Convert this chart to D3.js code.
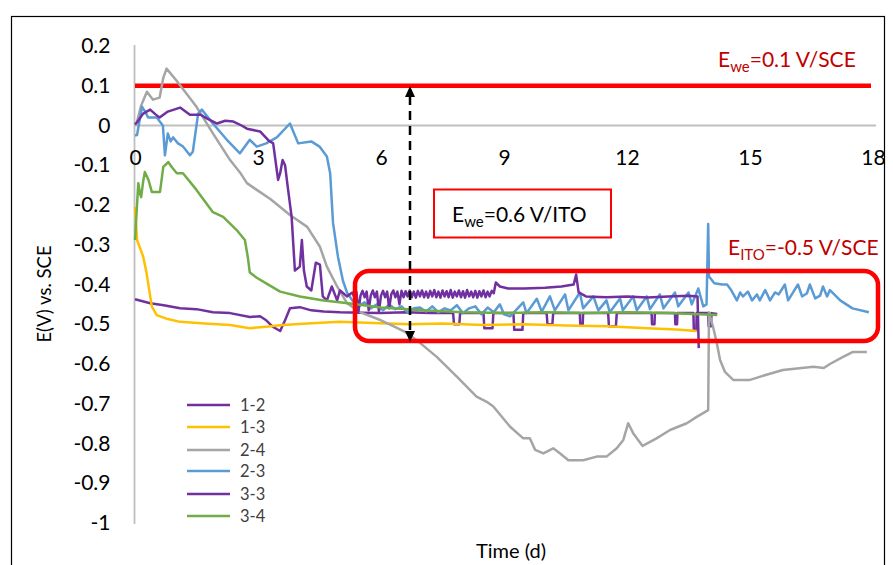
<!DOCTYPE html>
<html><head><meta charset="utf-8">
<script src="https://cdn.jsdelivr.net/npm/d3@7"></script>
<style>body{margin:0;background:#fff}svg{display:block}text{font-family:Lato,"Open Sans",sans-serif}</style>
</head><body>
<svg id="c" width="893" height="565"></svg>
<script>
const xTicks=[0,3,6,9,12,15,18];
const yTicks=[0.2,0.1,0,-0.1,-0.2,-0.3,-0.4,-0.5,-0.6,-0.7,-0.8,-0.9,-1];
const yTickLabels=["0.2","0.1","0","-0.1","-0.2","-0.3","-0.4","-0.5","-0.6","-0.7","-0.8","-0.9","-1"];
const seriesNames=["1-2","1-3","2-4","2-3","3-3","3-4"];
const seriesColors=["#7030a0","#ffc000","#a5a5a5","#5b9bd5","#7030a0","#70ad47"];
const refLevel=0.1;

const s12=[[0,-0.437],[0.37,-0.447],[0.7,-0.452],[1.1,-0.46],[1.5,-0.462],[1.9,-0.47],[2.32,-0.472],[2.8,-0.482],[3.05,-0.48],[3.2,-0.49],[3.37,-0.507],[3.54,-0.517],[3.66,-0.49],[3.78,-0.46],[4.02,-0.457],[4.3,-0.465],[4.6,-0.468],[5.0,-0.47],[5.5,-0.471],[6.0,-0.472],[6.6,-0.47],[7.2,-0.472],[7.76,-0.472],[7.78,-0.5],[7.91,-0.5],[7.93,-0.472],[8.5,-0.472],[8.52,-0.51],[8.72,-0.51],[8.74,-0.472],[9.23,-0.472],[9.25,-0.514],[9.45,-0.514],[9.47,-0.472],[10.04,-0.472],[10.06,-0.5],[10.18,-0.5],[10.2,-0.472],[10.85,-0.472],[10.86,-0.5],[10.92,-0.5],[10.93,-0.472],[11.54,-0.472],[11.56,-0.505],[11.73,-0.505],[11.75,-0.472],[12.6,-0.472],[12.61,-0.5],[12.67,-0.5],[12.68,-0.472],[13.17,-0.472],[13.18,-0.5],[13.22,-0.5],[13.23,-0.472],[13.62,-0.472],[13.63,-0.515],[13.69,-0.515],[13.7,-0.472],[13.98,-0.472],[13.99,-0.505],[14.05,-0.505],[14.06,-0.472],[14.2,-0.474]];
const s13=[[0,-0.205],[0.05,-0.288],[0.2,-0.33],[0.28,-0.37],[0.41,-0.455],[0.53,-0.477],[0.8,-0.487],[1.1,-0.494],[1.7,-0.498],[2.32,-0.502],[2.8,-0.51],[3.2,-0.506],[3.6,-0.502],[4.2,-0.498],[5.0,-0.494],[5.8,-0.497],[6.7,-0.5],[7.5,-0.498],[8.5,-0.502],[9.5,-0.5],[10.5,-0.503],[11.5,-0.505],[12.5,-0.51],[13.2,-0.513],[13.7,-0.517]];
const s24=[[0,0.0],[0.05,0.01],[0.15,0.05],[0.29,0.085],[0.44,0.065],[0.6,0.07],[0.69,0.12],[0.77,0.143],[1.02,0.112],[1.5,0.047],[1.9,-0.02],[2.32,-0.087],[2.56,-0.118],[2.73,-0.145],[2.97,-0.162],[3.3,-0.185],[3.78,-0.225],[4.2,-0.255],[4.51,-0.305],[4.68,-0.355],[4.93,-0.405],[5.17,-0.447],[5.5,-0.47],[6.0,-0.49],[6.3,-0.505],[6.6,-0.52],[6.87,-0.54],[7.36,-0.582],[7.85,-0.632],[8.33,-0.682],[8.58,-0.695],[8.74,-0.707],[9.15,-0.758],[9.47,-0.787],[9.63,-0.787],[9.76,-0.816],[9.96,-0.825],[10.2,-0.812],[10.37,-0.825],[10.57,-0.842],[10.93,-0.842],[11.26,-0.833],[11.5,-0.833],[11.75,-0.812],[11.91,-0.791],[12.03,-0.749],[12.15,-0.774],[12.38,-0.806],[12.72,-0.787],[13.05,-0.766],[13.46,-0.749],[13.7,-0.733],[13.98,-0.716],[14.0,-0.47],[14.1,-0.507],[14.19,-0.547],[14.27,-0.59],[14.39,-0.62],[14.59,-0.64],[15.0,-0.64],[15.4,-0.627],[15.8,-0.615],[16.55,-0.607],[16.8,-0.61],[16.95,-0.6],[17.27,-0.582],[17.5,-0.57],[17.85,-0.57]];
const s23=[[0,-0.025],[0.05,-0.024],[0.17,0.047],[0.25,0.035],[0.32,0.02],[0.53,0.02],[0.68,0.0],[0.73,-0.075],[0.8,-0.02],[0.87,-0.04],[0.93,-0.03],[1.05,-0.045],[1.17,-0.053],[1.34,-0.075],[1.41,-0.066],[1.54,0.03],[1.63,0.04],[1.9,0.005],[2.24,-0.036],[2.56,-0.07],[2.8,-0.036],[2.97,-0.053],[3.2,-0.045],[3.46,-0.03],[3.78,0.005],[3.98,-0.045],[4.3,-0.04],[4.5,-0.053],[4.68,-0.078],[4.76,-0.12],[4.83,-0.245],[4.95,-0.33],[5.07,-0.39],[5.17,-0.42],[5.3,-0.44],[5.45,-0.455],[5.6,-0.445],[5.75,-0.46],[5.9,-0.45],[6.05,-0.465],[6.2,-0.45],[6.35,-0.462],[6.5,-0.455],[6.65,-0.47],[6.8,-0.46],[6.95,-0.458],[7.1,-0.468],[7.25,-0.455],[7.4,-0.47],[7.55,-0.46],[7.7,-0.465],[7.85,-0.452],[8.0,-0.472],[8.15,-0.46],[8.3,-0.455],[8.45,-0.475],[8.6,-0.458],[8.75,-0.47],[8.9,-0.45],[9.0,-0.475],[9.15,-0.48],[9.47,-0.445],[9.55,-0.472],[9.8,-0.436],[9.92,-0.468],[10.12,-0.43],[10.24,-0.465],[10.49,-0.425],[10.57,-0.465],[10.85,-0.42],[10.93,-0.46],[11.18,-0.43],[11.3,-0.465],[11.5,-0.44],[11.58,-0.47],[11.83,-0.435],[11.9,-0.465],[12.15,-0.43],[12.24,-0.465],[12.48,-0.43],[12.56,-0.462],[12.8,-0.425],[12.89,-0.46],[13.17,-0.42],[13.25,-0.455],[13.5,-0.42],[13.58,-0.45],[13.74,-0.41],[13.86,-0.455],[13.94,-0.45],[13.98,-0.248],[14.0,-0.38],[14.13,-0.397],[14.32,-0.40],[14.44,-0.40],[14.54,-0.414],[14.68,-0.44],[14.76,-0.42],[14.83,-0.43],[14.95,-0.418],[15.05,-0.44],[15.17,-0.425],[15.24,-0.44],[15.37,-0.414],[15.49,-0.44],[15.61,-0.42],[15.7,-0.425],[15.85,-0.40],[15.93,-0.44],[16.05,-0.42],[16.17,-0.40],[16.27,-0.43],[16.39,-0.422],[16.46,-0.40],[16.59,-0.435],[16.71,-0.428],[16.78,-0.405],[16.88,-0.43],[16.95,-0.414],[17.2,-0.44],[17.5,-0.46],[17.9,-0.47]];
const s33=[[0,0.003],[0.05,0.008],[0.2,0.03],[0.37,0.04],[0.5,0.028],[0.6,0.02],[0.8,0.035],[1.1,0.045],[1.34,0.027],[1.6,0.027],[1.75,0.018],[2.0,0.005],[2.2,0.012],[2.4,0.01],[2.6,0.0],[2.73,-0.008],[3.05,-0.015],[3.25,-0.037],[3.37,-0.045],[3.49,-0.137],[3.54,-0.12],[3.6,-0.087],[3.66,-0.1],[3.72,-0.15],[3.82,-0.23],[3.9,-0.365],[4.02,-0.355],[4.07,-0.288],[4.12,-0.365],[4.19,-0.405],[4.3,-0.415],[4.41,-0.345],[4.51,-0.35],[4.58,-0.43],[4.68,-0.44],[4.8,-0.405],[4.93,-0.44],[5.0,-0.415],[5.17,-0.43],[5.3,-0.42],[5.35,-0.432],[5.4,-0.418],[5.45,-0.468],[5.5,-0.428],[5.55,-0.416],[5.6,-0.432],[5.65,-0.418],[5.7,-0.465],[5.75,-0.428],[5.8,-0.415],[5.85,-0.432],[5.9,-0.418],[5.95,-0.468],[6.0,-0.428],[6.05,-0.416],[6.1,-0.432],[6.15,-0.418],[6.2,-0.46],[6.25,-0.425],[6.3,-0.415],[6.35,-0.432],[6.4,-0.418],[6.45,-0.45],[6.5,-0.416],[6.55,-0.432],[6.6,-0.417],[6.65,-0.43],[6.7,-0.415],[6.75,-0.432],[6.8,-0.418],[6.85,-0.433],[6.9,-0.416],[6.95,-0.43],[7.0,-0.415],[7.05,-0.432],[7.1,-0.418],[7.15,-0.433],[7.2,-0.416],[7.25,-0.43],[7.3,-0.414],[7.35,-0.432],[7.4,-0.418],[7.45,-0.433],[7.5,-0.415],[7.55,-0.43],[7.6,-0.417],[7.65,-0.432],[7.7,-0.414],[7.75,-0.433],[7.8,-0.418],[7.85,-0.43],[7.9,-0.415],[7.95,-0.432],[8.0,-0.417],[8.05,-0.433],[8.1,-0.414],[8.15,-0.43],[8.2,-0.418],[8.25,-0.432],[8.3,-0.416],[8.35,-0.433],[8.4,-0.417],[8.45,-0.43],[8.5,-0.415],[8.55,-0.432],[8.6,-0.418],[8.65,-0.43],[8.7,-0.416],[8.75,-0.422],[8.8,-0.395],[8.9,-0.405],[9.1,-0.41],[9.5,-0.41],[10.0,-0.408],[10.4,-0.405],[10.7,-0.40],[10.76,-0.375],[10.82,-0.42],[11.0,-0.43],[11.5,-0.432],[12.0,-0.43],[12.5,-0.433],[13.0,-0.43],[13.5,-0.428],[13.72,-0.43],[13.75,-0.56]];
const s34=[[0,-0.288],[0.08,-0.145],[0.12,-0.17],[0.15,-0.18],[0.2,-0.14],[0.24,-0.117],[0.33,-0.137],[0.41,-0.167],[0.61,-0.167],[0.69,-0.104],[0.81,-0.092],[0.9,-0.105],[1.02,-0.12],[1.17,-0.12],[1.5,-0.162],[1.9,-0.218],[2.15,-0.23],[2.48,-0.263],[2.68,-0.288],[2.75,-0.33],[2.8,-0.37],[2.97,-0.383],[3.2,-0.397],[3.54,-0.418],[4.02,-0.43],[4.6,-0.44],[5.2,-0.447],[6.0,-0.458],[7.0,-0.465],[8.0,-0.47],[9.0,-0.472],[10.0,-0.47],[11.0,-0.472],[12.0,-0.47],[13.0,-0.472],[14.2,-0.477]];
const seriesData=[s12,s13,s24,s23,s33,s34];

const svg=d3.select("#c");
const x=d3.scaleLinear().domain([0,18]).range([135,873]);
const y=d3.scaleLinear().domain([-1,0.2]).range([523,46]);

// outer frame
svg.append("rect").attr("x",11.5).attr("y",16.5).attr("width",873).attr("height",600)
  .attr("fill","none").attr("stroke","#000").attr("stroke-width",1.2);

// y axis
const ya=svg.append("g").attr("transform","translate(134.5,0)")
  .call(d3.axisLeft(y).tickValues(yTicks).tickSize(0).tickPadding(24).tickFormat((d,i)=>yTickLabels[i]));
ya.select(".domain").attr("stroke","#bfbfbf").attr("stroke-width",1.8).attr("d","M0,45V524");
ya.selectAll("text").attr("font-size",21).attr("fill","#000");

// x axis at y=0
const xa=svg.append("g").attr("transform",`translate(0,${y(0)})`)
  .call(d3.axisBottom(x).tickValues(xTicks).tickSize(0).tickPadding(25).tickFormat(d3.format("d")));
xa.select(".domain").attr("stroke","#bfbfbf").attr("stroke-width",1.8).attr("d","M134,0H876");
xa.selectAll("text").attr("font-size",21).attr("fill","#000");

// reference red line
svg.append("line").attr("x1",x(0)).attr("x2",871).attr("y1",y(refLevel)).attr("y2",y(refLevel))
  .attr("stroke","#ff0000").attr("stroke-width",4.5);

// series
const line=d3.line().x(d=>x(d[0])).y(d=>y(d[1]));
seriesData.forEach((s,i)=>{
  svg.append("path").datum(s).attr("d",line).attr("fill","none")
    .attr("stroke",seriesColors[i]).attr("stroke-width",2.5).attr("stroke-linejoin","round");
});

// red rounded rect
svg.append("rect").attr("x",355).attr("y",271).attr("width",523).attr("height",70).attr("rx",14)
  .attr("fill","none").attr("stroke","#ff0000").attr("stroke-width",4.5);

// dashed arrow
svg.append("line").attr("x1",410).attr("x2",410).attr("y1",96).attr("y2",332)
  .attr("stroke","#000").attr("stroke-width",2.5).attr("stroke-dasharray","9,6");
svg.append("path").attr("d","M410,86L405,97L415,97Z").attr("fill","#000");
svg.append("path").attr("d","M410,342L405,331L415,331Z").attr("fill","#000");

// annotation box
svg.append("rect").attr("x",434).attr("y",189.5).attr("width",177).attr("height",48)
  .attr("fill","#fff").attr("stroke","#ff0000").attr("stroke-width",2);

function subText(xp,yp,main,sub,rest,color){
  const t=svg.append("text").attr("x",xp).attr("y",yp).attr("font-size",21).attr("fill",color);
  t.append("tspan").text(main);
  t.append("tspan").attr("font-size",15).attr("dy",5).text(sub);
  t.append("tspan").attr("dy",-5).text(rest);
}
subText(718,67,"E","we","=0.1 V/SCE","#c00000");
subText(452,222,"E","we","=0.6 V/ITO","#000");
subText(728,255,"E","ITO","=-0.5 V/SCE","#c00000");

// legend
const legY=[405,427,450,471,494,516];
seriesNames.forEach((n,i)=>{
  svg.append("line").attr("x1",187).attr("x2",230).attr("y1",legY[i]).attr("y2",legY[i])
    .attr("stroke",seriesColors[i]).attr("stroke-width",2.5);
  svg.append("text").attr("x",240).attr("y",legY[i]+6).attr("font-size",16.5).attr("fill","#404040").text(n);
});

// axis titles
svg.append("text").attr("transform","translate(51,294) rotate(-90)").attr("text-anchor","middle")
  .attr("font-size",18.5).attr("fill","#000").text("E(V) vs. SCE");
svg.append("text").attr("x",511).attr("y",558).attr("text-anchor","middle")
  .attr("font-size",20).attr("fill","#000").text("Time (d)");
</script>
</body></html>
